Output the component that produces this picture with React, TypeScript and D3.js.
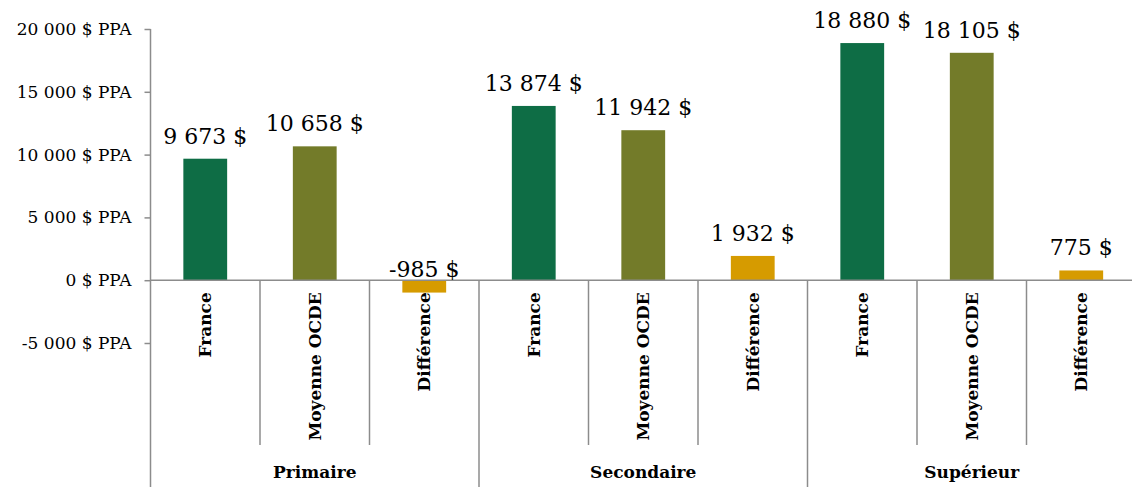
import React, { useRef, useEffect } from 'react';
import * as d3 from 'd3';

const groups = ['Primaire', 'Secondaire', 'Supérieur'];
const series = ['France', 'Moyenne OCDE', 'Différence'];
const france = [9673, 13874, 18880];
const ocde = [10658, 11942, 18105];
const diff = [-985, 1932, 775];
const yTicks = [-5000, 0, 5000, 10000, 15000, 20000];
const colors = ['#0e6d45', '#737b29', '#d69b00'];

const W = 1132;
const H = 487;

const App = () => {
  const svgRef = useRef<SVGSVGElement>(null);

  useEffect(() => {
    const svg = d3.select(svgRef.current);
    svg.selectAll('*').remove();

    const rows = groups.flatMap((g, gi) =>
      series.map((s, si) => ({
        group: g,
        name: s,
        key: g + '|' + s,
        value: [france, ocde, diff][si][gi],
        color: colors[si],
      }))
    );

    const x0 = 150.5;
    const step = 109.5;
    const xScale = d3
      .scaleBand()
      .domain(rows.map((d) => d.key))
      .range([x0, x0 + step * rows.length])
      .paddingInner(0)
      .paddingOuter(0);

    const yScale = d3.scaleLinear().domain([-5000, 20000]).range([343, 29]);
    const y0 = yScale(0);

    // french style: space as thousands separator, plain hyphen for minus
    const fmt = (v: number) =>
      d3.format(',')(v).replace(/,/g, ' ').replace('\u2212', '-');
    const font = 'DejaVu Serif';
    const gray = '#8c8c8c';

    // y axis
    const yAxis = d3
      .axisLeft(yScale)
      .tickValues(yTicks)
      .tickSize(6)
      .tickPadding(13)
      .tickFormat((v) => `${fmt(v as number)} $ PPA`);
    const yAxisGroup = svg.append('g').attr('transform', `translate(${x0},0)`).call(yAxis);
    yAxisGroup.select('.domain').remove();
    yAxisGroup.selectAll('line').attr('stroke', gray).attr('stroke-width', 1.5);
    yAxisGroup
      .selectAll('text')
      .attr('fill', '#000')
      .attr('font-family', font)
      .attr('font-size', 17);
    svg
      .append('line')
      .attr('x1', x0)
      .attr('x2', x0)
      .attr('y1', yScale(20000))
      .attr('y2', H)
      .attr('stroke', gray)
      .attr('stroke-width', 1.5);

    // bars
    const bw = xScale.bandwidth() * 0.4;
    svg
      .selectAll('.bar')
      .data(rows)
      .enter()
      .append('rect')
      .attr('x', (d) => (xScale(d.key) as number) + (xScale.bandwidth() - bw) / 2)
      .attr('y', (d) => Math.min(yScale(d.value), y0))
      .attr('width', bw)
      .attr('height', (d) => Math.abs(yScale(d.value) - y0))
      .attr('fill', (d) => d.color);

    // zero line
    svg
      .append('line')
      .attr('x1', x0)
      .attr('x2', W)
      .attr('y1', y0)
      .attr('y2', y0)
      .attr('stroke', gray)
      .attr('stroke-width', 1.5);

    // value labels
    svg
      .selectAll('.val')
      .data(rows)
      .enter()
      .append('text')
      .attr('x', (d) => (xScale(d.key) as number) + xScale.bandwidth() / 2)
      .attr('y', (d) => (d.value >= 0 ? yScale(d.value) - 15 : y0 - 3))
      .attr('text-anchor', 'middle')
      .attr('font-family', font)
      .attr('font-size', 22)
      .attr('fill', '#000')
      .text((d) => `${fmt(d.value)} $`);

    // category separators
    rows.forEach((d, i) => {
      if (i === 0) return;
      const xs = xScale(d.key) as number;
      const isGroup = i % series.length === 0;
      svg
        .append('line')
        .attr('x1', xs)
        .attr('x2', xs)
        .attr('y1', y0)
        .attr('y2', isGroup ? H : 445)
        .attr('stroke', gray)
        .attr('stroke-width', 1.5);
    });

    // category labels
    svg
      .selectAll('.cat')
      .data(rows)
      .enter()
      .append('text')
      .attr('transform', (d) => {
        const cx = (xScale(d.key) as number) + xScale.bandwidth() / 2;
        return `translate(${cx},${y0 + 12}) rotate(-90)`;
      })
      .attr('text-anchor', 'end')
      .attr('dominant-baseline', 'central')
      .attr('font-family', font)
      .attr('font-weight', 'bold')
      .attr('font-size', 17)
      .attr('fill', '#000')
      .text((d) => d.name);

    // group labels
    groups.forEach((g) => {
      const first = xScale(g + '|' + series[0]) as number;
      const cx = first + (xScale.bandwidth() * series.length) / 2;
      svg
        .append('text')
        .attr('x', cx)
        .attr('y', 478)
        .attr('text-anchor', 'middle')
        .attr('font-family', font)
        .attr('font-weight', 'bold')
        .attr('font-size', 17)
        .attr('fill', '#000')
        .text(g);
    });
  }, []);

  return (
    <svg
      ref={svgRef}
      width={W}
      height={H}
      style={{ position: 'absolute', left: 0, top: 0, background: '#fff' }}
    />
  );
};

export default App;
